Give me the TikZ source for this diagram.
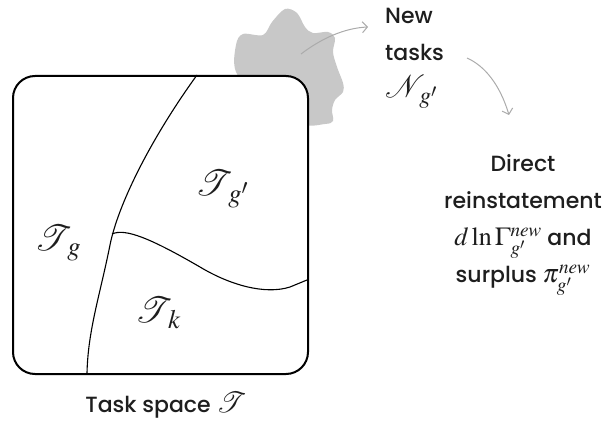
\documentclass[tikz,border=0pt]{standalone}
\usepackage{mathptmx}
\usepackage{mathrsfs}
\DeclareFontFamily{U}{rsfs}{\skewchar\font127 }
\DeclareFontShape{U}{rsfs}{m}{n}{<-6> rsfs5 <6-8.5> rsfs7 <8.5-> rsfs10}{}
\usepackage[no-math]{fontspec}
\setmainfont{Poppins}[UprightFont={* Medium}]
\usetikzlibrary{arrows.meta}
\definecolor{txt}{HTML}{1E1E1E}
\definecolor{blobgray}{HTML}{C8C8C8}
\definecolor{arrowgray}{HTML}{ABABAB}
\newcommand{\mthA}[1]{{\fontsize{32}{32}\selectfont$#1$}}
\newcommand{\mthT}[1]{{\fontsize{29}{29}\selectfont$#1$}}
\newcommand{\mthB}[1]{{\fontsize{26}{26}\selectfont$#1$}}
\tikzset{
  lbl/.style={font=\fontsize{22}{37}\selectfont, text=txt, inner sep=0pt},
  region/.style={font=\fontsize{36}{40}\selectfont, text=txt, inner sep=0pt},
  divider/.style={draw=black, line width=1.1pt},
  arr/.style={draw=arrowgray, line width=1pt, -{Straight Barb[length=5pt,width=11pt]}},
}
\begin{document}
\begin{tikzpicture}[x=1pt,y=-1pt]
\useasboundingbox (0,0) rectangle (608,428);
% blob of new tasks
\fill[blobgray] plot[smooth cycle, tension=0.55] coordinates {
  (236,72) (236,45) (243,34) (263,35) (272,22) (285,9) (297,13) (305,27)
  (313,33) (328,32) (335,38) (333,52) (337,67) (343,83) (343,92) (335,100)
  (332,110) (333,121) (325,124) (300,124) (260,100)};
% task space box
\node[draw=black, line width=2pt, fill=white, rounded corners=22pt,
      minimum width=295pt, minimum height=298pt, inner sep=0pt, anchor=north west]
      (box) at (12,75) {};
% dividers
\draw[divider] (197,75) .. controls (150,140) and (118,205) .. (110,245)
   .. controls (100,295) and (88,330) .. (87,373);
\coordinate (junc) at (112,234);
\draw[divider] (junc) .. controls (125,228) and (150,238) .. (200,267)
   .. controls (230,285) and (265,295) .. (290,287) -- (307,280);
% region labels
\node[region] (tg) at (58,243) {$\mathscr{T}_{\mkern4mu g}$};
\node[region] (tgp) at (222,189) {$\mathscr{T}_{\mkern4mu g'}$};
\node[region] (tk) at (158,313) {$\mathscr{T}_{\mkern4mu k}$};
% captions
\node[lbl, align=left, anchor=north west] (new) at (385,8)
  {New\\tasks\\\mthA{\mathscr{N}_{\mkern4mu g'}}};
\node[lbl, align=center] (direct) at (523,225)
  {Direct\\reinstatement\\\mthB{d\ln\Gamma^{new}_{g'}} and\\surplus \mthB{\pi^{new}_{g'}}};
\node[lbl] (space) at (166,405) {Task space \mthT{\mathscr{T}}};
% arrows
\coordinate (a1s) at (301,54);
\coordinate (a1e) at (368,27);
\coordinate (a2s) at (467,58);
\coordinate (a2e) at (509,115);
\draw[arr] (a1s) .. controls (322,38) and (345,28) .. (a1e);
\draw[arr] (a2s) .. controls (485,66) and (500,85) .. (a2e);
\end{tikzpicture}
\end{document}
